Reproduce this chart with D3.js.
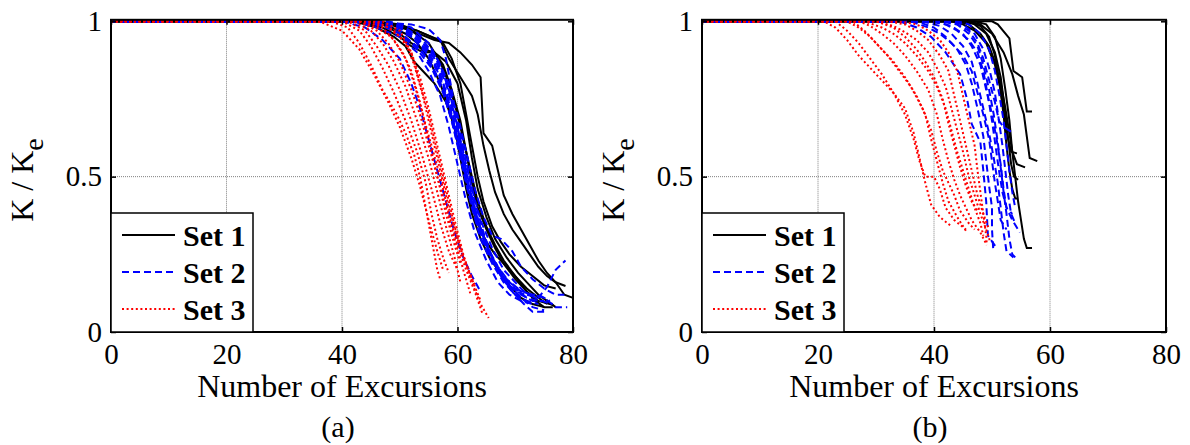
<!DOCTYPE html>
<html>
<head>
<meta charset="utf-8">
<script src="https://cdn.jsdelivr.net/npm/d3@7/dist/d3.min.js"></script>
<style>
  body { margin: 0; background: #fff; }
  svg { display: block; }
  text { font-family: "Liberation Serif", "Tinos", "DejaVu Serif", serif; fill: #000; }
</style>
</head>
<body>
<svg id="chart" width="1190" height="445"></svg>
<script>
/* data: each curve is a list of [excursions, K/Ke] */

var xTicks = [0, 20, 40, 60, 80];
var yTicks = [0, 0.5, 1];
var yTickLabels = ["0", "0.5", "1"];
var setNames = ["Set 1", "Set 2", "Set 3"];
var panelTags = ["(a)", "(b)"];

// panel (a)
var set1A = [
  [[0,1],[44,1],[48,0.99],[52,0.97],[56,0.94],[58.5,0.93],[60.5,0.9],[62.5,0.86],[64,0.82],[64.5,0.64],[66,0.6],[67,0.52],[68,0.44],[69.5,0.38],[71,0.33],[72.5,0.28],[74,0.23],[75.5,0.19],[77,0.16],[78.5,0.12],[80,0.11]],
  [[0,1],[45,1],[49,0.99],[53,0.97],[55.5,0.95],[57,0.94],[58.5,0.88],[60.5,0.82],[62.5,0.76],[63.5,0.7],[64.5,0.6],[65.5,0.52],[66.5,0.45],[68,0.38],[69.5,0.33],[71,0.29],[72.5,0.25],[74,0.21],[75.5,0.18],[77,0.16],[78.7,0.148]],
  [[0,1],[43,1],[47,0.98],[50,0.95],[52,0.92],[54,0.9],[56,0.9],[57.5,0.86],[59,0.78],[60.5,0.68],[61.5,0.58],[62.5,0.48],[63.5,0.4],[65,0.33],[66.5,0.27],[68,0.22],[70,0.17],[72,0.13],[74,0.1],[76.6,0.087]],
  [[0,1],[42,1],[46,0.98],[49,0.95],[51,0.92],[52.5,0.87],[54,0.84],[56,0.8],[58,0.74],[59.5,0.66],[60.5,0.56],[61.5,0.46],[62.5,0.38],[64,0.3],[65.5,0.24],[67,0.2],[69,0.15],[71,0.11],[73,0.09],[75,0.08]],
  [[0,1],[44,1],[48,0.985],[51,0.96],[53,0.93],[55,0.88],[57,0.8],[58.5,0.72],[60,0.62],[61,0.52],[62,0.43],[63.5,0.35],[65,0.29],[66.5,0.25],[68,0.22],[70,0.18],[72,0.13],[73.5,0.1],[75,0.08],[76.5,0.08]],
  [[0,1],[45,1],[49,0.99],[52,0.97],[55,0.93],[57,0.87],[58.5,0.8],[60,0.7],[61.5,0.58],[62.5,0.5],[63.5,0.42],[65,0.34],[66.5,0.28],[68,0.23],[70,0.18],[72,0.14],[74,0.11],[75.5,0.09]],
  [[0,1],[46,1],[50,0.99],[53,0.97],[55.5,0.95],[57.5,0.93],[59,0.88],[60.5,0.8],[61.5,0.7],[62.5,0.6],[63.5,0.5],[64.5,0.42],[66,0.34],[67.5,0.29],[69,0.25],[71,0.21],[73,0.18],[75,0.15],[77,0.14]],
  [[0,1],[43,1],[47,0.99],[50,0.96],[52,0.93],[54,0.91],[56,0.9],[58,0.87],[60,0.8],[61.5,0.68],[62.5,0.56],[63.5,0.46],[65,0.37],[66.5,0.3],[68.5,0.24],[70.5,0.19],[72.5,0.15],[74,0.12],[75.5,0.1],[77,0.08]]
];
var set2A = [
  [[0,1],[40,1],[44,0.98],[47,0.94],[50,0.88],[52,0.8],[53.5,0.72],[55,0.62],[56.5,0.52],[58,0.42],[59.5,0.32],[61,0.24],[62.5,0.18],[64,0.13]],
  [[0,1],[42,1],[46,0.98],[50,0.95],[53,0.9],[55,0.84],[57,0.76],[58.5,0.66],[60,0.54],[61.5,0.42],[63,0.32],[65,0.23],[67,0.16],[69,0.12],[71,0.1],[73,0.09]],
  [[0,1],[44,1],[48,0.98],[51,0.95],[54,0.9],[56,0.84],[58,0.76],[59.5,0.66],[61,0.52],[62.5,0.4],[64,0.3],[66,0.22],[68,0.16],[70,0.12],[72,0.1],[74,0.09]],
  [[0,1],[45,1],[49,0.98],[52,0.95],[54.5,0.9],[56.5,0.84],[58.5,0.74],[60,0.62],[61.5,0.5],[63,0.38],[65,0.28],[67,0.2],[69,0.15],[71,0.11],[73,0.08],[75,0.07]],
  [[0,1],[43,1],[47,0.99],[50,0.96],[53,0.92],[55.5,0.86],[57.5,0.78],[59,0.68],[60.5,0.56],[62,0.44],[64,0.32],[66,0.23],[68,0.17],[70,0.13],[72,0.12],[74,0.12],[76,0.1]],
  [[0,1],[40,1],[48,0.995],[52,0.99],[55,0.975],[57,0.94],[58,0.88],[59,0.78],[60,0.66],[61,0.54],[62,0.44],[63.5,0.34],[65,0.27],[67,0.2],[69,0.15],[71,0.12],[73,0.1],[75,0.1]],
  [[0,1],[44,1],[48,0.99],[51,0.97],[54,0.93],[56,0.88],[58,0.8],[59.5,0.7],[61,0.58],[62.5,0.46],[64,0.36],[66,0.27],[68,0.2],[70,0.16],[72,0.12],[74,0.11],[75.5,0.145],[77,0.2],[78.7,0.23]],
  [[0,1],[46,1],[50,0.98],[53,0.94],[55.5,0.88],[57.5,0.8],[59,0.7],[60.5,0.58],[62,0.46],[63.5,0.36],[65.5,0.26],[67.5,0.18],[69.5,0.13],[71.5,0.09],[73,0.065],[75,0.065]],
  [[0,1],[45,1],[49,0.99],[52,0.96],[55,0.9],[57,0.83],[59,0.72],[60.5,0.6],[62,0.47],[63.5,0.36],[65,0.28],[67,0.21],[69,0.16],[71,0.13],[73,0.12],[75,0.11],[77,0.08],[79,0.08]],
  [[0,1],[47,1],[51,0.98],[54,0.94],[56.5,0.88],[58.5,0.8],[60,0.68],[61.5,0.55],[63,0.42],[64.5,0.32],[66,0.24],[68,0.18],[70,0.14],[72,0.11],[74,0.1]],
  [[0,1],[43,1],[47,0.985],[50,0.96],[53,0.91],[55.5,0.85],[57.5,0.77],[59,0.68],[60.5,0.57],[62,0.45],[63.5,0.35],[65.5,0.25],[67.5,0.18],[69.5,0.13],[71,0.1]],
  [[0,1],[48,1],[52,0.98],[55,0.93],[57,0.86],[58.5,0.78],[60,0.66],[61.5,0.52],[63,0.4],[64.5,0.3],[66.5,0.22],[68.5,0.17],[70.5,0.14],[72.5,0.12],[74.5,0.1],[76.5,0.09]],
  [[0,1],[46,1],[50,0.985],[53,0.95],[56,0.89],[58,0.81],[60,0.7],[61.5,0.58],[63,0.46],[64.5,0.37],[66,0.31],[67.5,0.3],[69.5,0.26],[71,0.21],[73,0.17],[75,0.14],[77,0.12],[78.5,0.12]]
];
var set3A = [
  [[0,1],[38,1],[41,0.98],[43,0.93],[45,0.86],[47,0.78],[49.5,0.7],[51,0.64],[52.5,0.57],[53.5,0.5],[54.5,0.4],[55.5,0.3],[56.5,0.2],[57,0.17]],
  [[0,1],[40,1],[43,0.97],[45,0.92],[47,0.85],[49,0.77],[51,0.68],[53,0.58],[54.5,0.48],[55.5,0.38],[56.5,0.3],[57.5,0.24],[58.5,0.19]],
  [[0,1],[41,1],[44,0.97],[46,0.92],[48,0.86],[50,0.78],[52,0.68],[54,0.56],[55.5,0.46],[57,0.35],[58.5,0.26],[60,0.2]],
  [[0,1],[42,1],[45,0.97],[47,0.93],[49,0.87],[51,0.79],[53,0.68],[55,0.56],[56.5,0.45],[58,0.34],[59.5,0.24],[60.5,0.16]],
  [[0,1],[43,1],[46,0.97],[48,0.93],[50,0.87],[52,0.78],[53.5,0.7],[55,0.6],[56.5,0.5],[58,0.4],[59.5,0.3],[61,0.2],[62.2,0.125]],
  [[0,1],[44,1],[47,0.98],[49,0.94],[51,0.88],[52.5,0.8],[54,0.7],[55.5,0.6],[57,0.5],[58.5,0.38],[60,0.28],[61.5,0.2],[63,0.13],[64.3,0.06]],
  [[0,1],[45,1],[48,0.98],[50,0.95],[52,0.9],[53.5,0.82],[55,0.72],[56.5,0.6],[58,0.48],[59.5,0.36],[61,0.25],[62.5,0.16],[64,0.09],[65.4,0.045]],
  [[0,1],[36,1],[40,0.97],[43,0.91],[45.5,0.83],[48,0.74],[50,0.66],[52,0.56],[53.5,0.47],[55,0.36],[56.5,0.26],[57.5,0.2]],
  [[0,1],[46,1],[49,0.97],[51,0.93],[52.5,0.86],[54,0.76],[55.5,0.64],[57,0.52],[58.5,0.4],[60,0.3],[61.5,0.22],[63,0.15]],
  [[0,1],[43,1],[46,0.98],[48.5,0.95],[50.5,0.9],[52,0.84],[53.5,0.74],[55,0.62],[56.5,0.5],[58,0.38],[59.5,0.28],[60.5,0.22]],
  [[0,1],[47,1],[50,0.97],[52,0.9],[53.5,0.8],[55,0.7],[56.5,0.58],[58,0.46],[59.5,0.34],[61,0.24],[62.5,0.17],[64,0.1]]
];

// panel (b)
var set1B = [
  [[0,1],[50,1],[51,0.99],[53,0.945],[53.7,0.84],[55.2,0.82],[56,0.71],[56.9,0.71]],
  [[0,1],[46,1],[48,0.99],[50,0.96],[52,0.9],[53.5,0.83],[54.5,0.76],[55.5,0.7],[56,0.63],[56.5,0.56],[57.8,0.55]],
  [[0,1],[44,1],[46,0.99],[48,0.96],[49.5,0.92],[50.5,0.87],[51.5,0.8],[52.3,0.72],[53,0.64],[53.5,0.58],[54.3,0.54],[55.7,0.53]],
  [[0,1],[45,1],[47,0.99],[49,0.96],[50.5,0.9],[51.5,0.82],[52.2,0.72],[52.8,0.62],[53.3,0.54],[53.8,0.5],[54.5,0.49]],
  [[0,1],[46,1],[48,0.985],[49.5,0.95],[50.5,0.89],[51.3,0.8],[52,0.7],[52.5,0.6],[53,0.52],[53.5,0.46],[54,0.43],[54.5,0.43]],
  [[0,1],[47,1],[49,0.99],[50.5,0.95],[51.5,0.88],[52.3,0.78],[53,0.68],[53.5,0.58],[54,0.5],[54.5,0.42],[55,0.36],[55.5,0.3],[56,0.27],[56.9,0.27]],
  [[0,1],[43,1],[45,0.99],[47,0.97],[49,0.93],[50.5,0.86],[51.5,0.78],[52.2,0.68],[52.8,0.62],[53.3,0.58],[54.3,0.575]]
];
var set2B = [
  [[0,1],[34,1],[37,0.98],[39.5,0.95],[42,0.9],[44.5,0.83],[45.7,0.75],[46.5,0.67],[48,0.61],[48.5,0.52],[49,0.42],[49.3,0.31],[50.8,0.27]],
  [[0,1],[36,1],[39,0.98],[41,0.96],[43,0.93],[45,0.89],[46.5,0.84],[47.5,0.77],[48.5,0.7],[49.5,0.62],[50,0.55],[50.5,0.48],[51,0.42],[51.5,0.36],[52.5,0.33]],
  [[0,1],[38,1],[41,0.985],[43,0.96],[45,0.92],[46.5,0.87],[47.5,0.8],[48.5,0.72],[49.5,0.64],[50.3,0.56],[51,0.48],[51.5,0.4],[52,0.32],[52.5,0.26],[53.7,0.24]],
  [[0,1],[40,1],[43,0.985],[45,0.96],[46.5,0.92],[48,0.86],[49,0.78],[50,0.7],[50.8,0.62],[51.5,0.54],[52,0.46],[52.5,0.4],[53.5,0.36],[54.8,0.32]],
  [[0,1],[42,1],[44,0.99],[46,0.97],[47.5,0.93],[48.5,0.88],[49.5,0.81],[50.5,0.74],[51.2,0.68],[52,0.66],[53.7,0.64]],
  [[0,1],[37,1],[40,0.98],[42,0.95],[44,0.91],[45.5,0.86],[46.5,0.8],[47.5,0.72],[48.5,0.63],[49,0.55],[49.5,0.47],[50,0.4],[50,0.33],[50.2,0.27]],
  [[0,1],[43,1],[45,0.99],[47,0.96],[48.5,0.91],[49.5,0.85],[50.5,0.77],[51.2,0.68],[51.8,0.6],[52.3,0.52],[52.8,0.44],[53.3,0.38],[54,0.35]],
  [[0,1],[41,1],[44,0.99],[46,0.96],[47.5,0.92],[48.5,0.86],[49.5,0.78],[50.3,0.7],[51,0.61],[51.5,0.53],[52,0.45],[52.5,0.38],[53,0.3],[53.5,0.25],[54,0.24]],
  [[0,1],[44,1],[46,0.99],[48,0.96],[49.5,0.91],[50.5,0.84],[51.3,0.76],[52,0.68],[52.5,0.6],[53,0.52],[53.5,0.45],[54,0.4]],
  [[0,1],[39,1],[42,0.99],[44,0.97],[46,0.94],[47.5,0.9],[48.5,0.84],[49.3,0.76],[50,0.68],[50.6,0.6],[51.2,0.52],[51.8,0.45],[52.5,0.4],[53.5,0.38]]
];
var set3B = [
  [[0,1],[21,1],[23,0.98],[25,0.94],[27,0.89],[29,0.85],[31,0.81],[33,0.77],[35,0.72],[36.5,0.64],[37.5,0.56],[38.5,0.48],[39.5,0.41],[41,0.37],[43,0.34]],
  [[0,1],[23,1],[25,0.97],[27,0.93],[29,0.88],[31,0.83],[33,0.77],[35,0.7],[36.5,0.62],[37.5,0.55],[38.5,0.5],[40,0.5],[41,0.46],[42,0.4],[43.5,0.36],[45.5,0.33]],
  [[0,1],[25,1],[27,0.98],[29,0.95],[31,0.91],[33,0.87],[35,0.82],[37,0.76],[38.5,0.7],[39.5,0.62],[40.5,0.55],[41.5,0.48],[42.5,0.42],[44,0.37],[45.7,0.32]],
  [[0,1],[27,1],[29,0.985],[31,0.96],[33,0.93],[35,0.89],[37,0.84],[39,0.78],[40.5,0.7],[41.5,0.62],[42.5,0.55],[43.5,0.49],[44.5,0.44],[45.5,0.4],[46.5,0.36],[48,0.32],[49.1,0.28]],
  [[0,1],[28,1],[31,0.98],[33,0.96],[35,0.93],[37,0.89],[39,0.84],[40.5,0.79],[42,0.72],[43,0.65],[44,0.58],[45,0.52],[46,0.46],[47,0.4],[48,0.35],[48.5,0.31]],
  [[0,1],[30,1],[33,0.985],[35,0.965],[37,0.94],[39,0.9],[40.5,0.85],[42,0.79],[43,0.72],[44,0.65],[45,0.58],[46,0.5],[47,0.44],[48,0.38],[49,0.33],[49.7,0.29]],
  [[0,1],[32,1],[35,0.99],[37,0.97],[39,0.94],[41,0.89],[42.5,0.84],[43.5,0.76],[44.5,0.68],[45.5,0.6],[46.5,0.52],[47.5,0.44],[48.5,0.38],[49.5,0.33]],
  [[0,1],[26,1],[28,0.97],[30,0.93],[32,0.89],[34,0.84],[36,0.79],[38,0.72],[39.5,0.65],[40.5,0.58],[41.5,0.52],[42.5,0.48],[43.5,0.44],[44.5,0.39],[46,0.35],[47,0.33]],
  [[0,1],[34,1],[37,0.99],[39,0.97],[41,0.94],[42.5,0.9],[44,0.84],[45,0.76],[46,0.68],[47,0.6],[47.5,0.52],[48,0.45],[48.5,0.38],[49,0.31],[49.1,0.28]],
  [[0,1],[30,1],[33,0.98],[35,0.95],[37,0.91],[38.5,0.87],[40,0.82],[41.5,0.75],[42.5,0.67],[43.5,0.6],[44.5,0.53],[45.5,0.47],[46.5,0.42],[47.5,0.39]]
];

/* layout */

var FONT = '"Liberation Serif", "Tinos", "DejaVu Serif", serif';
var svg = d3.select("#chart");
var plotTop = 21.3, plotBottom = 332;
var styles = [
  {color: "#000000", dash: null},
  {color: "#0000ff", dash: "7,4"},
  {color: "#ff0000", dash: "2,2.6"}
];
var panels = [
  {left: 111, right: 573, sets: [set1A, set2A, set3A]},
  {left: 702, right: 1166, sets: [set1B, set2B, set3B]}
];

panels.forEach(function(p, pi){
  var g = svg.append("g");
  var x = d3.scaleLinear().domain([0, 80]).range([p.left, p.right]);
  var y = d3.scaleLinear().domain([0, 1]).range([plotBottom, plotTop]);

  // grid
  g.selectAll(".gx").data(xTicks.slice(1, -1)).enter().append("line")
    .attr("x1", function(d){return x(d);}).attr("x2", function(d){return x(d);})
    .attr("y1", plotTop).attr("y2", plotBottom)
    .attr("stroke", "#808080").attr("stroke-width", 1).attr("stroke-dasharray", "1,1");
  g.selectAll(".gy").data([0.5]).enter().append("line")
    .attr("x1", p.left).attr("x2", p.right)
    .attr("y1", function(d){return y(d);}).attr("y2", function(d){return y(d);})
    .attr("stroke", "#808080").attr("stroke-width", 1).attr("stroke-dasharray", "1,1");

  // curves
  var line = d3.line().x(function(d){return x(d[0]);}).y(function(d){return y(d[1]);});
  p.sets.forEach(function(curves, si){
    g.selectAll(null).data(curves).enter().append("path")
      .attr("d", line)
      .attr("fill", "none")
      .attr("stroke", styles[si].color)
      .attr("stroke-width", 2)
      .attr("stroke-dasharray", styles[si].dash);
  });

  // axes with inward ticks
  g.append("g").attr("transform", "translate(0," + plotBottom + ")")
    .call(d3.axisBottom(x).tickValues(xTicks).tickSize(-5).tickPadding(11));
  g.append("g").attr("transform", "translate(" + p.left + ",0)")
    .call(d3.axisLeft(y).tickValues(yTicks).tickSize(-5).tickPadding(9)
      .tickFormat(function(d, i){return yTickLabels[i];}));
  g.append("g").attr("transform", "translate(0," + (plotTop - 1.5) + ")")
    .call(d3.axisTop(x).tickValues(xTicks).tickSize(-5).tickFormat(""));
  g.append("g").attr("transform", "translate(" + p.right + ",0)")
    .call(d3.axisRight(y).tickValues(yTicks).tickSize(-5).tickFormat(""));
  g.selectAll(".domain").remove();
  g.selectAll(".tick line").attr("stroke", "#000").attr("stroke-width", 1.5);
  g.selectAll(".tick text").attr("font-family", null)
    .style("font-family", FONT).style("font-size", "29px").attr("fill", "#000");

  // box
  g.append("rect")
    .attr("x", p.left).attr("y", plotTop - 1.5)
    .attr("width", p.right - p.left).attr("height", plotBottom - plotTop + 1.5)
    .attr("fill", "none").attr("stroke", "#000").attr("stroke-width", 2);

  // legend
  var lg = g.append("g");
  lg.append("rect")
    .attr("x", p.left).attr("y", 213)
    .attr("width", 142).attr("height", plotBottom - 213)
    .attr("fill", "#fff").attr("stroke", "#000").attr("stroke-width", 1.5);
  setNames.forEach(function(name, si){
    var ly = 235 + si * 37;
    lg.append("line")
      .attr("x1", p.left + 11).attr("x2", p.left + 64)
      .attr("y1", ly).attr("y2", ly)
      .attr("stroke", styles[si].color).attr("stroke-width", 2)
      .attr("stroke-dasharray", styles[si].dash);
    lg.append("text")
      .attr("x", p.left + 72).attr("y", ly + 11)
      .style("font-family", FONT).style("font-size", "30px").style("font-weight", "bold")
      .text(name);
  });

  // labels
  var cx = (p.left + p.right) / 2;
  g.append("text")
    .attr("x", cx).attr("y", 397)
    .attr("text-anchor", "middle").style("font-family", FONT).style("font-size", "32px")
    .text("Number of Excursions");
  g.append("text")
    .attr("x", cx - 4).attr("y", 437)
    .attr("text-anchor", "middle").style("font-family", FONT).style("font-size", "30px")
    .text(panelTags[pi]);
  var yl = g.append("text")
    .attr("transform", "translate(" + (p.left - 78) + "," + 180 + ") rotate(-90)")
    .attr("text-anchor", "middle").style("font-family", FONT).style("font-size", "32px");
  yl.append("tspan").text("K / K");
  yl.append("tspan").attr("dy", 10).style("font-size", "28px").text("e");
});
</script>
</body>
</html>
